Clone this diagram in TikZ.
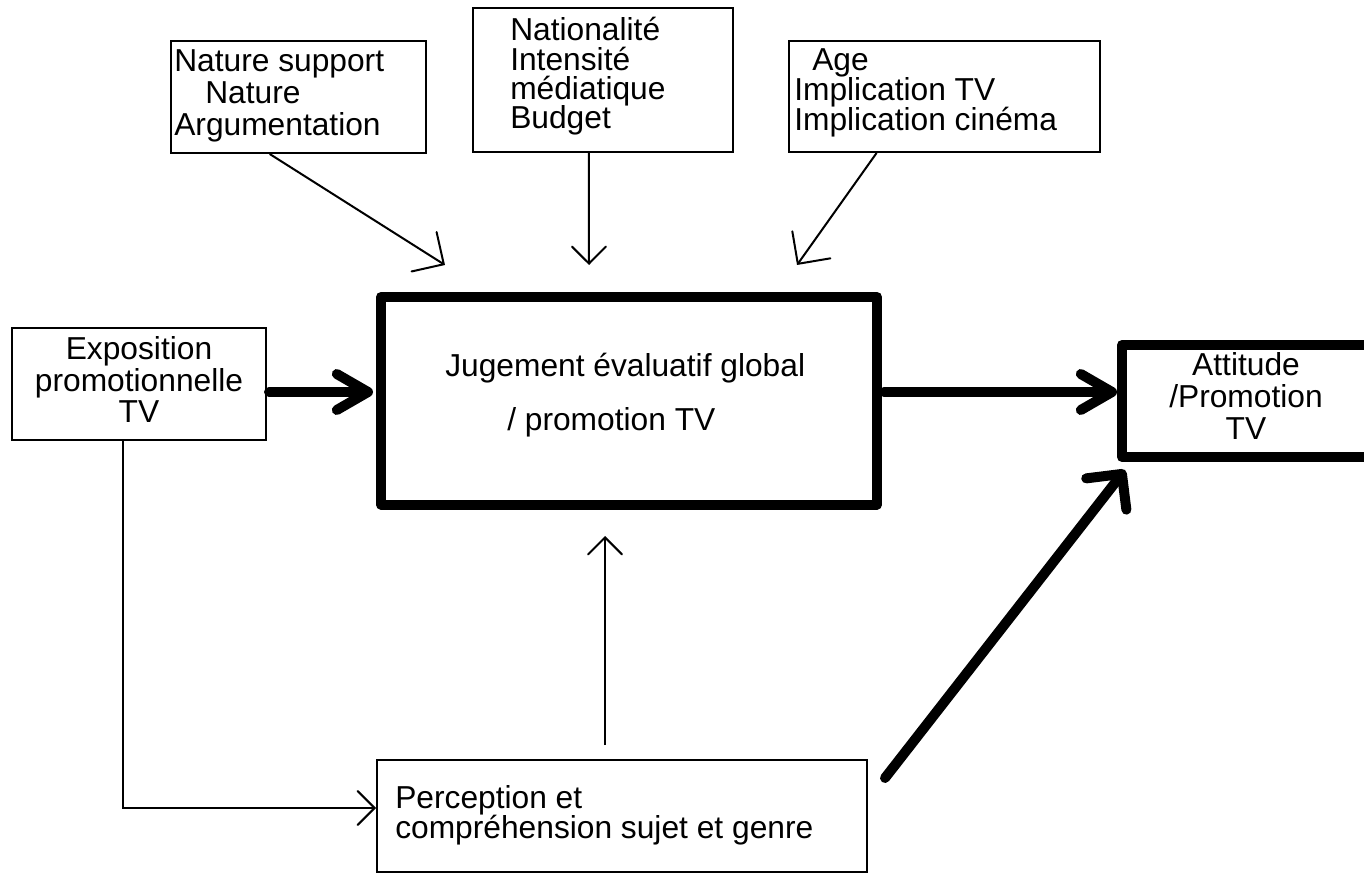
\documentclass[tikz,border=0pt]{standalone}
\usepackage{fontspec}
\setmainfont{Liberation Sans}
\usetikzlibrary{arrows.meta,calc}
\newdimen\pxu \pxu=0.75pt
\begin{document}
\begin{tikzpicture}[x=0.75pt, y=-0.75pt,
  thinbox/.style={draw, line width=1.5pt, inner sep=0pt},
  thickbox/.style={draw, line width=7.5pt, inner sep=0pt, line join=round},
  txt/.style={inner sep=0pt, font=\fontsize{23.8pt}{26pt}\selectfont},
  thinarrow/.style={line width=1.5pt, -{Straight Barb[angle=90:18pt, line cap=round]}},
  diagarrow/.style={line width=1.5pt, -{Straight Barb[angle=90:24.75pt, line cap=round]}},
  thickarrow/.style={line width=7.5pt, line cap=round, -{Straight Barb[angle=60:27pt, line cap=round, line join=round]}},
  thickdiag/.style={line width=7.5pt, line cap=round, -{Straight Barb[angle=90:27pt, line cap=round, line join=round]}}
]
\useasboundingbox (0,0) rectangle (1364,873);
\fill[white] (0,0) rectangle (1364,873);

% boxes
\node[thinbox, minimum width=255\pxu, minimum height=112\pxu] (A) at (298.5,97) {};
\node[thinbox, minimum width=260\pxu, minimum height=144\pxu] (B) at (603,80) {};
\node[thinbox, minimum width=311\pxu, minimum height=111\pxu] (C) at (944.5,96.5) {};
\node[thinbox, minimum width=254\pxu, minimum height=112\pxu] (expo) at (139,384) {};
\node[thickbox, minimum width=496\pxu, minimum height=207.5\pxu] (main) at (629,400.75) {};
\node[thickbox, minimum width=253\pxu, minimum height=112\pxu] (att) at (1248.5,401) {};
\node[thinbox, minimum width=490\pxu, minimum height=112\pxu] (perc) at (622,816) {};

% texts
\node[txt, anchor=base west] (a1) at (174,72) {Nature support};
\node[txt, anchor=base west] (a2) at (205,104) {Nature};
\node[txt, anchor=base west] (a3) at (174,136) {Argumentation};

\node[txt, anchor=base west] (b1) at (510,41) {Nationalité};
\node[txt, anchor=base west] (b2) at (510,71) {Intensité};
\node[txt, anchor=base west] (b3) at (510,100) {médiatique};
\node[txt, anchor=base west] (b4) at (510,129) {Budget};

\node[txt, anchor=base west] (c1) at (812,71) {Age};
\node[txt, anchor=base west] (c2) at (794,101) {Implication TV};
\node[txt, anchor=base west] (c3) at (794,131) {Implication cinéma};

\node[txt, anchor=base] (e1) at (139,360) {Exposition};
\node[txt, anchor=base] (e2) at (139,392) {promotionnelle};
\node[txt, anchor=base] (e3) at (139,423) {TV};

\node[txt, anchor=base west] (m1) at (445,377) {Jugement évaluatif global};
\node[txt, anchor=base west] (m2) at (507,431) {/ promotion TV};

\node[txt, anchor=base] (t1) at (1246,376) {Attitude};
\node[txt, anchor=base] (t2) at (1246,408) {/Promotion};
\node[txt, anchor=base] (t3) at (1246,440) {TV};

\node[txt, anchor=base west] (p1) at (395,808) {Perception et};
\node[txt, anchor=base west] (p2) at (395,838) {compréhension sujet et genre};

% free ends
\coordinate (tipA) at (445,265);
\coordinate (tipB) at (589,265);
\coordinate (tipC) at (797,265);
\coordinate (upS) at (605,745);
\coordinate (upT) at (605,536);
\coordinate (dS) at (885,778);
\coordinate (dT) at (1125,470);

% connectors
\draw[diagarrow] ($(A.south west)!0.388!(A.south east)$) -- (tipA);
\draw[thinarrow] ($(B.south west)!0.446!(B.south east)$) -- (tipB);
\draw[diagarrow] ($(C.south west)!0.283!(C.south east)$) -- (tipC);
\draw[thickarrow] ($(expo.east)+(2,8)$) -- ($(main.west)+(-3,-8.75)$);
\draw[thickarrow] ($(main.east)+(2,-8.75)$) -- ($(att.west)+(0,-9)$);
\draw[thickdiag] (dS) -- (dT);
\draw[thinarrow] (upS) -- (upT);
\draw[thinarrow, line join=miter] ($(expo.south west)!0.437!(expo.south east)$) |- ($(perc.west)+(0,-8)$);
\end{tikzpicture}
\end{document}
